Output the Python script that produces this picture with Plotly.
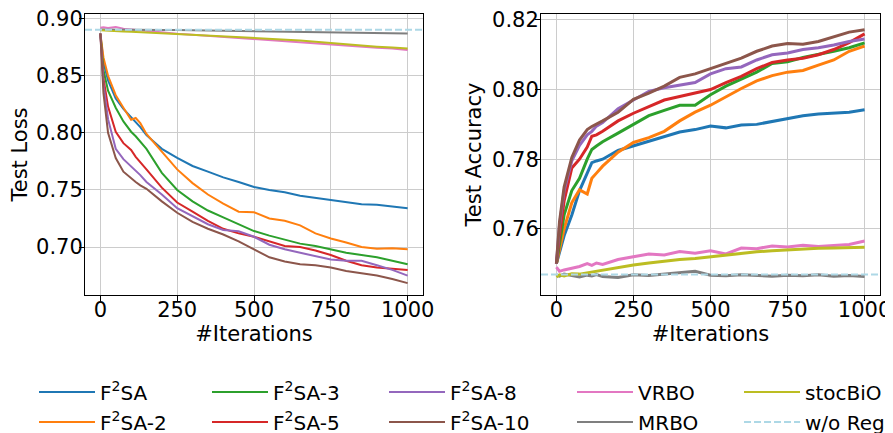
import plotly.graph_objects as go

# iteration grid shared by every series
iters = [0, 10, 25, 50, 75, 100, 115, 130, 150, 200, 250, 300, 350, 400, 450,
         500, 550, 600, 650, 700, 750, 800, 850, 900, 950, 1000]

# ---- Test loss (left panel) ----
loss_f2sa = [0.887, 0.862, 0.846, 0.830, 0.821, 0.814, 0.810, 0.805, 0.798, 0.786, 0.778,
             0.771, 0.766, 0.761, 0.757, 0.7526, 0.750, 0.748, 0.745, 0.743, 0.741, 0.739,
             0.7375, 0.737, 0.7355, 0.734]
loss_f2sa2 = [0.887, 0.866, 0.850, 0.833, 0.822, 0.8115, 0.813, 0.8085, 0.799, 0.783, 0.768,
              0.756, 0.746, 0.738, 0.731, 0.7305, 0.725, 0.723, 0.719, 0.712, 0.7075, 0.704,
              0.700, 0.6985, 0.699, 0.698]
loss_f2sa3 = [0.887, 0.855, 0.837, 0.822, 0.810, 0.801, 0.797, 0.792, 0.786, 0.765, 0.750,
              0.740, 0.732, 0.726, 0.720, 0.714, 0.710, 0.7066, 0.703, 0.701, 0.698, 0.695,
              0.693, 0.691, 0.688, 0.685]
loss_f2sa5 = [0.887, 0.848, 0.823, 0.801, 0.791, 0.785, 0.779, 0.774, 0.768, 0.752, 0.739,
              0.731, 0.723, 0.716, 0.712, 0.709, 0.705, 0.701, 0.700, 0.697, 0.693, 0.688,
              0.684, 0.682, 0.681, 0.680]
loss_f2sa8 = [0.887, 0.842, 0.812, 0.786, 0.777, 0.771, 0.767, 0.763, 0.757, 0.746, 0.734,
              0.727, 0.720, 0.715, 0.7138, 0.709, 0.702, 0.698, 0.695, 0.692, 0.689, 0.688,
              0.688, 0.684, 0.680, 0.675]
loss_f2sa10 = [0.887, 0.835, 0.800, 0.778, 0.766, 0.760, 0.757, 0.754, 0.751, 0.740, 0.730,
               0.722, 0.716, 0.711, 0.705, 0.698, 0.691, 0.6874, 0.685, 0.684, 0.682, 0.679,
               0.677, 0.675, 0.672, 0.6684]
loss_vrbo = [0.8920, 0.8925, 0.8918, 0.8928, 0.8912, 0.8905, 0.8900, 0.8896, 0.8893, 0.8880,
             0.8868, 0.8860, 0.8850, 0.8843, 0.8835, 0.8822, 0.8815, 0.8805, 0.8795, 0.8785,
             0.8772, 0.8765, 0.8755, 0.8745, 0.8738, 0.8725]
loss_mrbo = [0.8905, 0.8904, 0.8903, 0.8903, 0.8902, 0.8902, 0.8901, 0.8901, 0.8901, 0.8900,
             0.8900, 0.8898, 0.8896, 0.8894, 0.8892, 0.8890, 0.8888, 0.8886, 0.8884, 0.8882,
             0.8880, 0.8878, 0.8876, 0.8874, 0.8872, 0.8871]
loss_stocbio = [0.8898, 0.8896, 0.8893, 0.8890, 0.8888, 0.8886, 0.8884, 0.8883, 0.8880, 0.8875,
                0.8870, 0.8863, 0.8855, 0.8848, 0.8841, 0.8834, 0.8826, 0.8818, 0.8810, 0.8798,
                0.8786, 0.8775, 0.8765, 0.8755, 0.8747, 0.8739]
loss_noreg = 0.8902

# ---- Test accuracy (right panel) ----
acc_f2sa = [0.750, 0.753, 0.758, 0.764, 0.771, 0.776, 0.779, 0.7795, 0.780, 0.7825, 0.7838,
            0.785, 0.7865, 0.7878, 0.7885, 0.7895, 0.789, 0.7898, 0.790, 0.7908, 0.7915,
            0.7925, 0.793, 0.7932, 0.7935, 0.7942]
acc_f2sa2 = [0.750, 0.754, 0.760, 0.7675, 0.7712, 0.7700, 0.7745, 0.776, 0.778, 0.782, 0.7848,
             0.7862, 0.788, 0.791, 0.7935, 0.7955, 0.798, 0.8003, 0.8025, 0.804, 0.805, 0.8055,
             0.807, 0.8085, 0.811, 0.8125]
acc_f2sa3 = [0.750, 0.756, 0.764, 0.771, 0.7745, 0.780, 0.7828, 0.7838, 0.785, 0.7875, 0.790,
             0.7925, 0.794, 0.7955, 0.7955, 0.7985, 0.801, 0.803, 0.805, 0.8075, 0.808, 0.8092,
             0.810, 0.811, 0.812, 0.8134]
acc_f2sa5 = [0.750, 0.758, 0.768, 0.7775, 0.780, 0.7835, 0.7866, 0.787, 0.788, 0.791, 0.7932,
             0.7952, 0.797, 0.798, 0.799, 0.800, 0.802, 0.8038, 0.806, 0.8078, 0.8085, 0.809,
             0.810, 0.8115, 0.8135, 0.816]
acc_f2sa8 = [0.750, 0.761, 0.771, 0.7795, 0.784, 0.787, 0.788, 0.7895, 0.7905, 0.7945, 0.797,
             0.7995, 0.8005, 0.8012, 0.802, 0.8045, 0.806, 0.8065, 0.8085, 0.810, 0.8105,
             0.8115, 0.812, 0.8128, 0.8138, 0.8145]
acc_f2sa10 = [0.750, 0.762, 0.772, 0.7805, 0.7855, 0.7885, 0.7894, 0.790, 0.791, 0.7935,
              0.7972, 0.799, 0.801, 0.8035, 0.8045, 0.806, 0.8075, 0.809, 0.811, 0.8125,
              0.8132, 0.813, 0.8138, 0.8152, 0.8165, 0.8172]
acc_vrbo = [0.7490, 0.7478, 0.7482, 0.7486, 0.7492, 0.7500, 0.7495, 0.7502, 0.7498, 0.7512,
            0.7520, 0.7528, 0.7525, 0.7535, 0.7530, 0.7537, 0.7528, 0.7545, 0.7543, 0.7551,
            0.7548, 0.7553, 0.7549, 0.7552, 0.7555, 0.7565]
acc_mrbo = [0.7468, 0.7464, 0.7470, 0.7466, 0.7462, 0.7467, 0.7465, 0.7469, 0.7463, 0.7460,
            0.7468, 0.7466, 0.7470, 0.7472, 0.7478, 0.7467, 0.7465, 0.7468, 0.7466, 0.7464,
            0.7467, 0.7465, 0.7468, 0.7464, 0.7466, 0.7463]
acc_stocbio = [0.7462, 0.7468, 0.7465, 0.7471, 0.7470, 0.7474, 0.7476, 0.7478, 0.7482, 0.7490,
               0.7496, 0.7502, 0.7508, 0.7512, 0.7515, 0.7520, 0.7525, 0.7530, 0.7534, 0.7537,
               0.7540, 0.7542, 0.7544, 0.7545, 0.7546, 0.7547]
acc_noreg = 0.7469

x_range = [-50, 1050]

# name, colour, loss, acc
series = [
    ('F<sup>2</sup>SA', '#1f77b4', loss_f2sa, acc_f2sa),
    ('F<sup>2</sup>SA-2', '#ff7f0e', loss_f2sa2, acc_f2sa2),
    ('F<sup>2</sup>SA-3', '#2ca02c', loss_f2sa3, acc_f2sa3),
    ('F<sup>2</sup>SA-5', '#d62728', loss_f2sa5, acc_f2sa5),
    ('F<sup>2</sup>SA-8', '#9467bd', loss_f2sa8, acc_f2sa8),
    ('F<sup>2</sup>SA-10', '#8c564b', loss_f2sa10, acc_f2sa10),
    ('VRBO', '#e377c2', loss_vrbo, acc_vrbo),
    ('MRBO', '#7f7f7f', loss_mrbo, acc_mrbo),
    ('stocBiO', '#bcbd22', loss_stocbio, acc_stocbio),
]

fig = go.Figure()
for i, (name, color, loss, acc) in enumerate(series):
    leg = 'legend' if i == 0 else f'legend{i + 1}'
    fig.add_trace(go.Scatter(x=iters, y=loss, mode='lines', name=name, legend=leg,
                             line=dict(color=color, width=2), xaxis='x', yaxis='y'))
    fig.add_trace(go.Scatter(x=iters, y=acc, mode='lines', name=name, showlegend=False,
                             line=dict(color=color, width=3), xaxis='x2', yaxis='y2'))

dash = dict(color='#add8e6', width=2, dash='7px,3px')
fig.add_trace(go.Scatter(x=x_range, y=[loss_noreg] * 2, mode='lines', name='w/o Reg',
                         legend='legend10', line=dash, xaxis='x', yaxis='y'))
fig.add_trace(go.Scatter(x=x_range, y=[acc_noreg] * 2, mode='lines', name='w/o Reg',
                         showlegend=False, line=dash, xaxis='x2', yaxis='y2'))

FONT = 'DejaVu Sans'
axis_common = dict(showline=True, linecolor='black', linewidth=1, mirror=True,
                   ticks='outside', ticklen=5, tickcolor='black', automargin=False,
                   ticklabeloverflow='allow',
                   showgrid=True, gridcolor='#cccccc', gridwidth=1, zeroline=False,
                   tickfont=dict(family=FONT, size=21, color='black'))
xaxis_common = dict(axis_common, range=x_range, tickvals=[0, 250, 500, 750, 1000],
                    ticklabelstandoff=-9,
                    title=dict(text='#Iterations', font=dict(family=FONT, size=21), standoff=1))

# the page body adds an 8px offset, so layout is worked out in screen pixels minus OFF
OFF = 8
W, H = 893, 433
ML, MR, MT, MB = 77, 21, 6, 146
pw, ph = W - ML - MR, H - MT - MB


def fx(s):
    return (s - OFF - ML) / pw


def fy(s):
    return (H - MB - (s - OFF)) / ph


# one legend per entry: columns hold (row 1, row 2) pairs
leg_common = dict(orientation='v', xanchor='left', yanchor='middle', bgcolor='rgba(0,0,0,0)',
                  font=dict(family=FONT, size=20, color='black'), itemwidth=56)
text_xs = [100, 273, 450, 638, 805]
row_ys = [392, 422]

fig.update_layout(
    width=W, height=H,
    margin=dict(l=ML, r=MR, t=MT, b=MB, autoexpand=False),
    plot_bgcolor='white', paper_bgcolor='white',
    font=dict(family=FONT, size=20, color='black'),
    xaxis=dict(xaxis_common, domain=[0, fx(423)]),
    yaxis=dict(axis_common, range=[0.658, 0.9041], tickvals=[0.70, 0.75, 0.80, 0.85, 0.90],
               tickformat='.2f', ticklabelstandoff=-8,
               title=dict(text='Test Loss', font=dict(family=FONT, size=21), standoff=7)),
    xaxis2=dict(xaxis_common, domain=[fx(541), 1], anchor='y2'),
    yaxis2=dict(axis_common, range=[0.741, 0.8217], anchor='x2',
                tickvals=[0.76, 0.78, 0.80, 0.82], tickformat='.2f', ticklabelstandoff=-8,
                title=dict(text='Test Accuracy', font=dict(family=FONT, size=21), standoff=4)),
)
for k in range(10):
    key = 'legend' if k == 0 else f'legend{k + 1}'
    col, row = divmod(k, 2)
    fig.update_layout({key: dict(leg_common, x=fx(text_xs[col] - 66), y=fy(row_ys[row]))})

fig.write_html('out.html')
